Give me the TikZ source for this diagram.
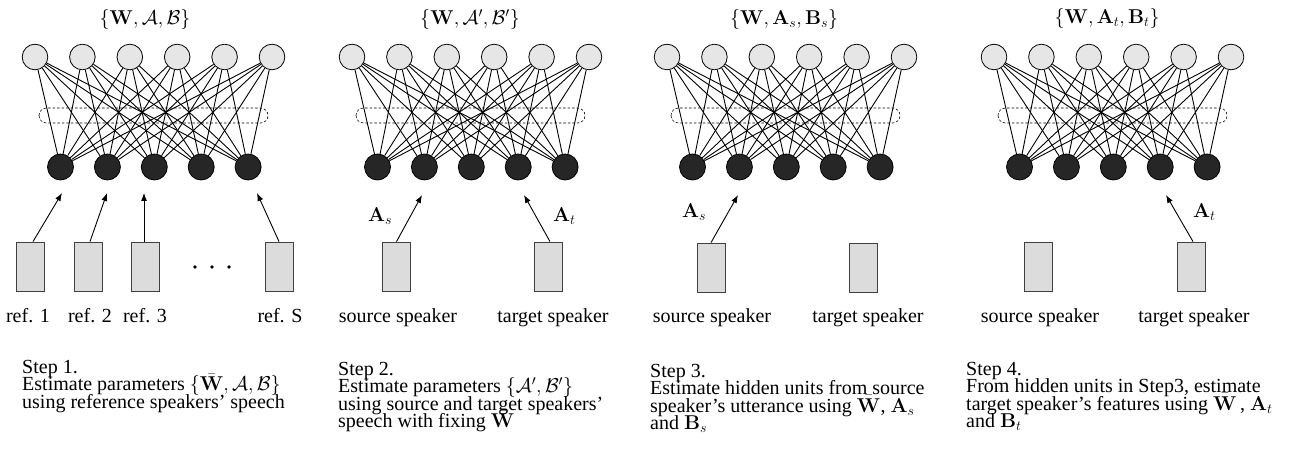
\RequirePackage{fix-cm}
\documentclass[tikz,border=0pt]{standalone}
\usepackage[no-math]{fontspec}
\setmainfont{Liberation Serif}
\usetikzlibrary{arrows.meta}
\definecolor{topfill}{HTML}{E6E6E6}
\definecolor{hidfill}{HTML}{262626}
\definecolor{spkfill}{HTML}{DCDCDC}
\definecolor{spkdraw}{HTML}{404040}
\newcommand\stepblock[1]{\vtop{\baselineskip=17.5pt\lineskiplimit=-\maxdimen\lineskip=0pt\relax #1}}
\begin{document}
\begin{tikzpicture}[x=1pt,y=-1pt,
  inp/.style={circle,draw=black,fill=topfill,minimum size=25.6pt,inner sep=0pt,line width=0.8pt},
  hid/.style={circle,draw=black,fill=hidfill,minimum size=26pt,inner sep=0pt,line width=0.8pt},
  conn/.style={line width=0.9pt,black},
  grp/.style={draw=black,dashed,dash pattern=on 2.5pt off 2pt,line width=0.6pt,rounded corners=7.5pt},
  spk/.style={draw=spkdraw,fill=spkfill,minimum width=28pt,minimum height=49pt,inner sep=0pt,line width=0.8pt},
  feed/.style={-{Latex[length=8pt,width=6pt]},line width=0.9pt},
  ttl/.style={font=\fontsize{20}{24}\selectfont,inner sep=0pt,anchor=base},
  alab/.style={font=\fontsize{20}{24}\selectfont,inner sep=0pt,anchor=base west},
  slab/.style={font=\fontsize{20}{24}\selectfont,inner sep=0pt,anchor=base},
  stxt/.style={font=\fontsize{20}{24}\selectfont,inner sep=0pt,anchor=base west}]
\useasboundingbox (0,0) rectangle (1295,454);

% networks
\foreach \p/\xo in {1/35,2/352,3/667,4/994}{
  \foreach \i in {1,...,6}{
    \node[inp] (t\p-\i) at ({\xo+47.4*(\i-1)},57) {};
  }
  \foreach \j in {1,...,5}{
    \node[hid] (b\p-\j) at ({\xo+25.5+46.9*(\j-1)},167) {};
  }
  \foreach \i in {1,...,6}{
    \foreach \j in {1,...,5}{
      \draw[conn] (t\p-\i) -- (b\p-\j);
    }
  }
  \draw[grp] ({\xo+4},108) rectangle ({\xo+233},123);
}

% titles
\node[ttl] (ttl1) at (145,25) {$\{\mathbf{W},\mathcal{A},\mathcal{B}\}$};
\node[ttl] (ttl2) at (470,25) {$\{\mathbf{W},\mathcal{A}',\mathcal{B}'\}$};
\node[ttl] (ttl3) at (784,25) {$\{\mathbf{W},\mathbf{A}_s,\mathbf{B}_s\}$};
\node[ttl] (ttl4) at (1107,24) {$\{\mathbf{W},\mathbf{A}_t,\mathbf{B}_t\}$};

% panel 1 speakers
\node[spk] (r1-1) at (30,266.5) {};
\node[spk] (r1-2) at (88,266.5) {};
\node[spk] (r1-3) at (145,266.5) {};
\node[spk] (r1-4) at (279,266.5) {};
\coordinate (e1-1) at (62,193);
\coordinate (e1-2) at (107,193);
\coordinate (e1-3) at (144,193);
\coordinate (e1-4) at (257,193);
\draw[feed] ([xshift=3pt]r1-1.north) -- (e1-1);
\draw[feed] ([xshift=2pt]r1-2.north) -- (e1-2);
\draw[feed] ([xshift=-1pt]r1-3.north) -- (e1-3);
\draw[feed] (r1-4.north) -- (e1-4);
\foreach \k/\dx in {1/195,2/212,3/229}{
  \fill (\dx,267) circle (1.9pt);
}
\node[slab] (l1-1) at (28,322) {ref. 1};
\node[slab] (l1-2) at (90,322) {ref. 2};
\node[slab] (l1-3) at (145,322) {ref. 3};
\node[slab] (l1-4) at (280,322) {ref. S};

% panel 2 speakers
\node[spk] (r2-1) at (396.5,266.5) {};
\node[spk] (r2-2) at (548,266.5) {};
\coordinate (e2-1) at (422,195);
\coordinate (e2-2) at (524,195);
\draw[feed] (r2-1.north) -- (e2-1);
\draw[feed] ([xshift=2pt]r2-2.north) -- (e2-2);
\node[alab] (a2-1) at (368,222) {$\mathbf{A}_s$};
\node[alab] (a2-2) at (553,222) {$\mathbf{A}_t$};
\node[slab] (l2-1) at (398,322) {source speaker};
\node[slab] (l2-2) at (553,322) {target speaker};

% panel 3 speakers
\node[spk] (r3-1) at (711,267.5) {};
\node[spk] (r3-2) at (863,267.5) {};
\coordinate (e3-1) at (738,195);
\draw[feed] (r3-1.north) -- (e3-1);
\node[alab] (a3-1) at (682,218) {$\mathbf{A}_s$};
\node[slab] (l3-1) at (712,322) {source speaker};
\node[slab] (l3-2) at (868,322) {target speaker};

% panel 4 speakers
\node[spk] (r4-1) at (1038,266.5) {};
\node[spk] (r4-2) at (1191,266.5) {};
\coordinate (e4-2) at (1166,195);
\draw[feed] ([xshift=2pt]r4-2.north) -- (e4-2);
\node[alab] (a4-2) at (1193,218) {$\mathbf{A}_t$};
\node[slab] (l4-1) at (1040,322) {source speaker};
\node[slab] (l4-2) at (1194,322) {target speaker};

% step descriptions
\node[stxt] (s1) at (22,373) {\stepblock{%
  \hbox{Step 1.}%
  \hbox{Estimate parameters $\{\bar{\mathbf{W}},\mathcal{A},\mathcal{B}\}$}%
  \hbox{using reference speakers’ speech}}};

\node[stxt] (s2) at (338,375) {\stepblock{%
  \hbox{Step 2.}%
  \hbox{Estimate parameters $\{\mathcal{A}',\mathcal{B}'\}$}%
  \hbox{using source and target speakers’}%
  \hbox{speech with fixing $\bar{\mathbf{W}}$}}};

\node[stxt] (s3) at (650,377) {\stepblock{%
  \hbox{Step 3.}%
  \hbox{Estimate hidden units from source}%
  \hbox{speaker’s utterance using $\bar{\mathbf{W}}$, $\mathbf{A}_s$}%
  \hbox{and $\mathbf{B}_s$}}};

\node[stxt] (s4) at (966,375) {\stepblock{%
  \hbox{Step 4.}%
  \hbox{From hidden units in Step3, estimate}%
  \hbox{target speaker’s features using $\bar{\mathbf{W}}$\,, $\mathbf{A}_t$}%
  \hbox{and $\mathbf{B}_t$}}};
\end{tikzpicture}
\end{document}
